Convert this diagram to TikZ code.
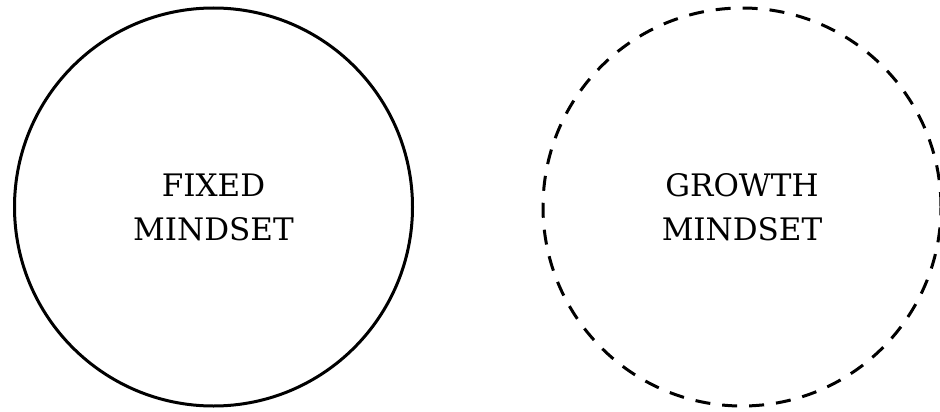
\documentclass[tikz,border=0pt]{standalone}
\usepackage{fontspec}
\setmainfont{DejaVu Serif}
\tikzset{
  mindset/.style={circle, draw, line width=3pt, minimum size=398pt, inner sep=0pt,
    align=center, font=\fontsize{31}{44}\selectfont},
  growthline/.style={dash pattern=on 15pt off 12pt}
}
\begin{document}
\begin{tikzpicture}[x=1pt, y=-1pt]
\useasboundingbox (0,0) rectangle (940,412);

\node[mindset] (fixed) at (213.5,207) {FIXED\\ MINDSET};
\node[mindset, growthline] (growth) at (742,207) {GROWTH\\ MINDSET};
\end{tikzpicture}
\end{document}
